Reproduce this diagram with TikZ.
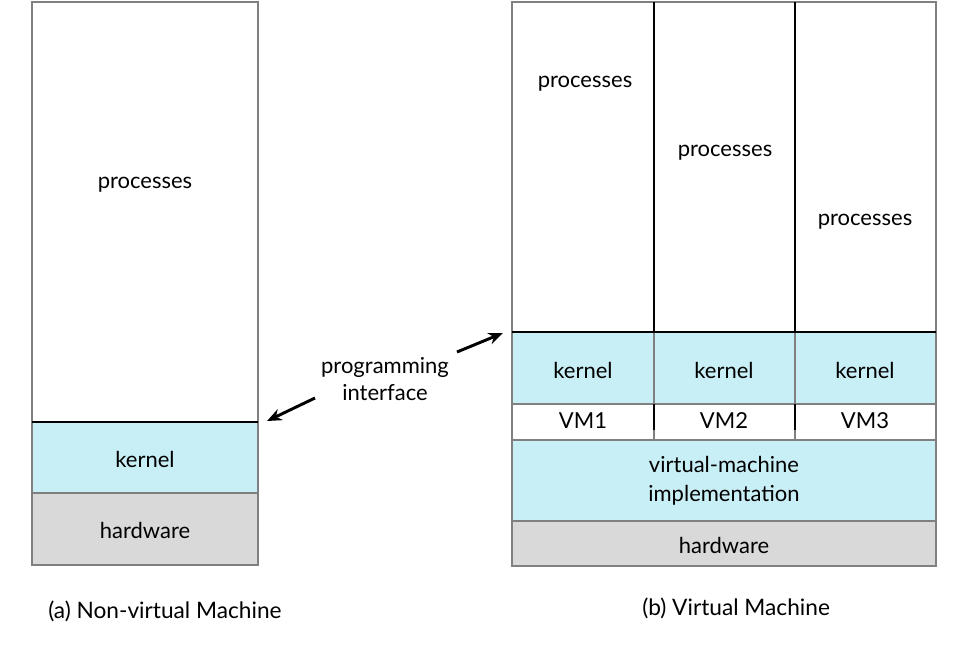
\documentclass[tikz,border=0pt]{standalone}
\usepackage{fontspec}
\setmainfont{Lato}
\usetikzlibrary{arrows.meta}
\definecolor{kern}{HTML}{C8EEF6}
\definecolor{hw}{HTML}{D9D9D9}
\definecolor{edge}{HTML}{808080}
\begin{document}
\begin{tikzpicture}[x=0.75pt,y=-0.75pt,
  box/.style={draw=edge,line width=0.8pt},
  sep/.style={line width=2.2pt,black},
  lbl/.style={font=\fontsize{16.5}{20}\selectfont,inner sep=0pt,align=center},
  captext/.style={font=\fontsize{17}{20}\selectfont,inner sep=0pt,anchor=west},
  ptr/.style={line width=2.2pt,-{Stealth[length=11pt,width=9pt]}}]
\useasboundingbox (0,0) rectangle (968,644);
% ---------- (a) non-virtual ----------
\draw[box,fill=white] (32,2) rectangle (258,422);
\draw[box,fill=kern] (32,422) rectangle (258,493);
\draw[box,fill=hw] (32,493) rectangle (258,565);
\draw[sep] (32,422) -- (258,422);
\node[lbl] (aproc) at (145,185) {processes};
\node[lbl] (akern) at (145,459) {kernel};
\node[lbl] (ahw) at (145,530) {hardware};
% ---------- (b) virtual ----------
\draw[box,fill=white] (512,2) rectangle (936,332);
\draw[box,fill=kern] (512,332) rectangle (936,404);
\draw[box,fill=white] (512,404) rectangle (936,440);
\draw[box,fill=kern] (512,440) rectangle (936,521);
\draw[box,fill=hw] (512,521) rectangle (936,566);
\foreach \x in {654,795}{
  \draw[sep] (\x,2) -- (\x,332);
  \draw[box] (\x,332) -- (\x,404);
  \draw[sep] (\x,404) -- (\x,430);
  \draw[box] (\x,430) -- (\x,440);
}
\draw[sep] (512,332) -- (936,332);
\node[lbl] (bp1) at (585,84) {processes};
\node[lbl] (bp2) at (725,153) {processes};
\node[lbl] (bp3) at (865,222) {processes};
\node[lbl] (bk1) at (583,370) {kernel};
\node[lbl] (bk2) at (724,370) {kernel};
\node[lbl] (bk3) at (865,370) {kernel};
\node[lbl] (vm1) at (583,421) {VM1};
\node[lbl] (vm2) at (724,421) {VM2};
\node[lbl] (vm3) at (865,421) {VM3};
\node[lbl,font=\fontsize{16.5}{22}\selectfont] (vmi) at (724,481) {virtual-machine\\implementation};
\node[lbl] (bhw) at (724,545) {hardware};
% ---------- programming interface ----------
\node[lbl] (pi) at (385,379) {programming\\interface};
\coordinate (la) at (315,398);
\coordinate (lt) at (267,421);
\coordinate (ra) at (457,352);
\coordinate (rt) at (503,333);
\draw[ptr] (la) -- (lt);
\draw[ptr] (ra) -- (rt);
% ---------- captions ----------
\node[captext] (capa) at (48,611) {(a) Non-virtual Machine};
\node[captext] (capb) at (642,608) {(b) Virtual Machine};
\end{tikzpicture}
\end{document}
